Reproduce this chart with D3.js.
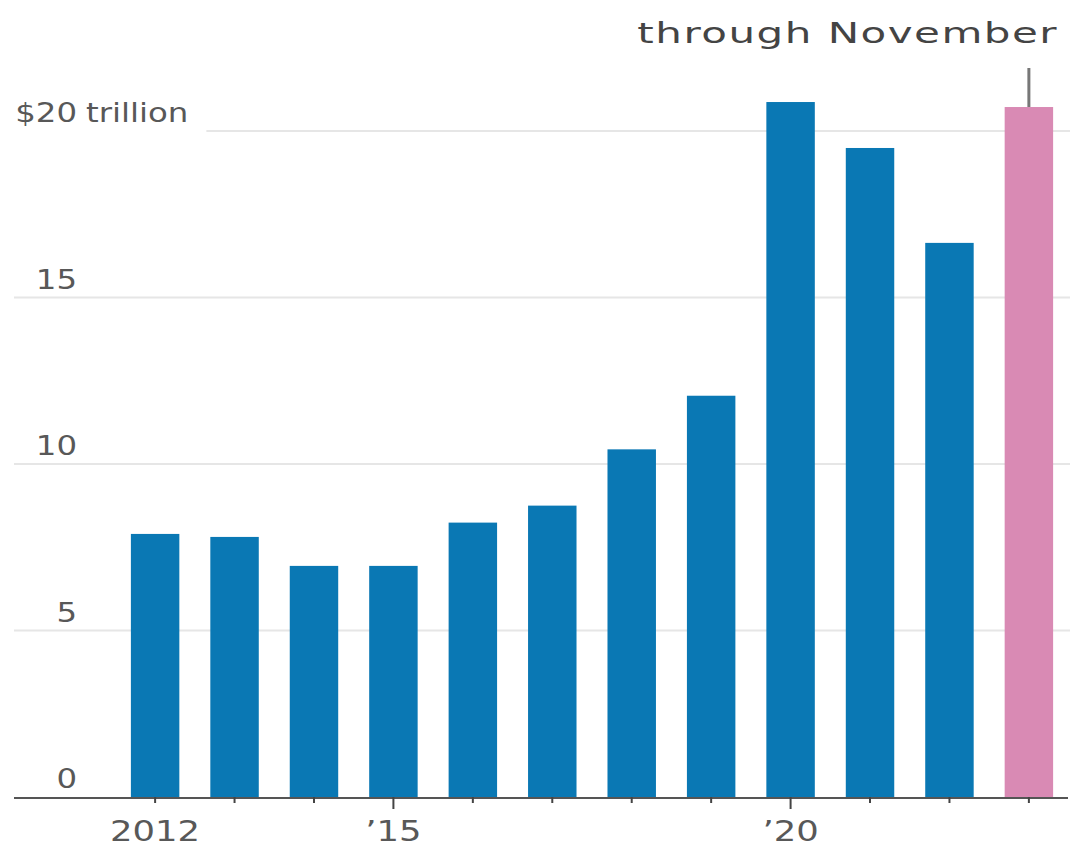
<!DOCTYPE html>
<html>
<head>
<meta charset="utf-8">
<script src="https://cdn.jsdelivr.net/npm/d3@7"></script>
<style>
  html, body { margin: 0; padding: 0; background: #fff; }
  svg { display: block; }
  text { font-family: "DejaVu Sans", Verdana, sans-serif; }
</style>
</head>
<body>
<svg id="chart" width="1082" height="849"></svg>
<script>
// Annual totals, trillions of dollars (final year is partial: through November)
const years = ["2012","2013","2014","2015","2016","2017","2018","2019","2020","2021","2022","2023"];
const totals = [7.90, 7.81, 6.94, 6.94, 8.24, 8.75, 10.44, 12.05, 20.87, 19.49, 16.64, 20.72];
const partialYear = "2023";
const yTicks = [0, 5, 10, 15, 20];
const xLabelYears = ["2012", "2015", "2020"];
const xLabelText = ["2012", "\u201915", "\u201920"];
const topUnit = "trillion";
const partialNote = "through November";

const data = years.map((y, i) => ({ year: y, value: totals[i] }));

const svg = d3.select("#chart");

const x = d3.scaleBand()
  .domain(years)
  .range([115, 1069])
  .paddingInner(0.39)
  .paddingOuter(0.2);

const y = d3.scaleLinear()
  .domain([0, 20])
  .range([797, 131]);

const BLUE = "#0a78b4", PINK = "#d98ab4";
const LABEL = "#585858";

// horizontally widened text, anchored at (px, py)
function wideText(g, px, py, str, opts) {
  return g.append("text")
    .attr("transform", `translate(${px},${py}) scale(${opts.sx},1)`)
    .attr("text-anchor", opts.anchor || "start")
    .attr("font-size", opts.size)
    .attr("letter-spacing", opts.ls || 0)
    .attr("fill", opts.fill || LABEL)
    .text(str);
}

// gridlines
const grid = svg.append("g");
grid.selectAll("line")
  .data(yTicks.filter(d => d > 0))
  .join("line")
  .attr("x1", 14)
  .attr("x2", 1070)
  .attr("y1", d => y(d))
  .attr("y2", d => y(d))
  .attr("stroke", "#e6e6e6")
  .attr("stroke-width", 2);

// y tick labels
const yl = svg.append("g");
yTicks.forEach(t => {
  const label = t === 20 ? "$" + t : String(t);
  wideText(yl, 77, y(t) - 9, label, { sx: 1.2, size: 27, anchor: "end" });
});
const unit = wideText(yl, 86, y(20) - 9, topUnit, { sx: 1.2, size: 27, anchor: "start" });

// clear the top gridline behind its unit label
{
  const bb = unit.node().getBBox();
  const right = 86 + bb.width * 1.2 + 18;
  svg.insert("rect", "g:nth-of-type(2)")
    .attr("x", 10).attr("y", y(20) - 4)
    .attr("width", right - 10).attr("height", 8)
    .attr("fill", "#fff");
}

// bars
svg.append("g")
  .selectAll("rect")
  .data(data)
  .join("rect")
  .attr("x", d => x(d.year))
  .attr("width", x.bandwidth())
  .attr("y", d => y(d.value))
  .attr("height", d => y(0) - y(d.value))
  .attr("fill", d => d.year === partialYear ? PINK : BLUE);

// baseline axis with ticks
const xAxis = svg.append("g");
xAxis.append("line")
  .attr("x1", 14).attr("x2", 1068)
  .attr("y1", y(0) + 1).attr("y2", y(0) + 1)
  .attr("stroke", "#555").attr("stroke-width", 2);
xAxis.selectAll("line.tick")
  .data(years)
  .join("line")
  .attr("class", "tick")
  .attr("x1", d => x(d) + x.bandwidth() / 2)
  .attr("x2", d => x(d) + x.bandwidth() / 2)
  .attr("y1", y(0))
  .attr("y2", d => (d === "2015" || d === "2020") ? y(0) + 12 : y(0) + 6)
  .attr("stroke", "#444").attr("stroke-width", 2);

// x labels
xLabelYears.forEach((yr, i) => {
  wideText(xAxis, x(yr) + x.bandwidth() / 2, 841, xLabelText[i], { sx: 1.22, size: 29, anchor: "middle" });
});

// note for partial year
const cx = x(partialYear) + x.bandwidth() / 2;
svg.append("line")
  .attr("x1", cx).attr("x2", cx)
  .attr("y1", 68).attr("y2", y(totals[years.indexOf(partialYear)]))
  .attr("stroke", "#777").attr("stroke-width", 3);
wideText(svg, x(partialYear) + x.bandwidth() + 5, 43, partialNote,
  { sx: 1.5, size: 28, anchor: "end", ls: 1, fill: "#444" });
</script>
</body>
</html>
